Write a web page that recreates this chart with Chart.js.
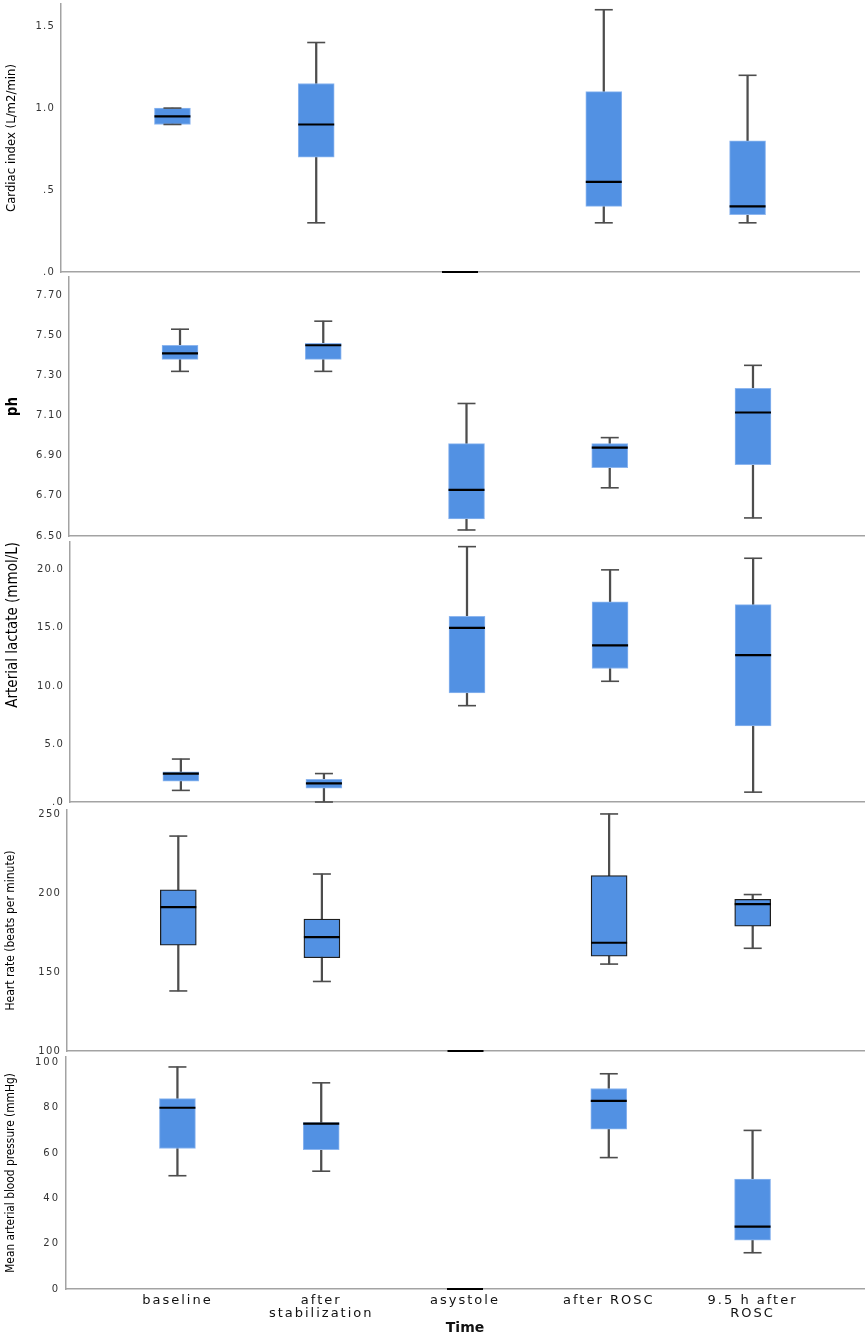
<!DOCTYPE html>
<html>
<head>
<meta charset="utf-8">
<script src="https://cdn.jsdelivr.net/npm/chart.js@4.4.0/dist/chart.umd.min.js"></script>
<style>
    html, body { margin: 0; padding: 0; background: #fff; }
    #wrap { position: relative; width: 868px; height: 1339px; overflow: hidden; }
    .panel { position: absolute; left: 0; width: 868px; }
</style>
</head>
<body>
<div id="wrap"></div>
<script>
const timePoints = ['baseline', ['after', 'stabilization'], 'asystole', 'after ROSC', ['9.5 h after', 'ROSC']];

// each row: [min, q1, median, q3, max] for one time point
const cardiacIndex = [
    [0.9, 0.9, 0.95, 1.0, 1.0],
    [0.3, 0.7, 0.9, 1.15, 1.4],
    [0, 0, 0, 0, 0],
    [0.3, 0.4, 0.55, 1.1, 1.6],
    [0.3, 0.35, 0.4, 0.8, 1.2]
];
const ph = [
    [7.32, 7.38, 7.41, 7.45, 7.53],
    [7.32, 7.38, 7.45, 7.46, 7.57],
    [6.53, 6.585, 6.73, 6.96, 7.16],
    [6.74, 6.84, 6.94, 6.96, 6.99],
    [6.59, 6.855, 7.115, 7.235, 7.35]
];
const lactate = [
    [1.0, 1.8, 2.45, 2.6, 3.7],
    [0, 1.2, 1.6, 1.95, 2.45],
    [8.3, 9.4, 15.0, 16.0, 22.0],
    [10.4, 11.5, 13.5, 17.25, 20.0],
    [0.85, 6.55, 12.65, 17.0, 21.0]
];
const heartRate = [
    [138, 167, 191, 202, 236],
    [144, 159, 172, 183.5, 212],
    [100, 100, 100, 100, 100],
    [155, 160, 168.5, 211, 250],
    [165, 179, 193, 196, 199]
];
const meanArterialPressure = [
    [50, 62, 80, 84, 98],
    [52, 61.5, 73, 73.5, 91],
    [0, 0, 0, 0, 0],
    [58, 70.5, 83, 88.5, 95],
    [16, 21.5, 27.5, 48.5, 70]
];

const cardiacTicks = [0, 0.5, 1.0, 1.5];
const cardiacTickLabels = ['.0', '.5', '1.0', '1.5'];
const phTicks = [6.5, 6.7, 6.9, 7.1, 7.3, 7.5, 7.7];
const phTickLabels = ['6.50', '6.70', '6.90', '7.10', '7.30', '7.50', '7.70'];
const lactateTicks = [0, 5, 10, 15, 20];
const lactateTickLabels = ['.0', '5.0', '10.0', '15.0', '20.0'];
const heartRateTicks = [100, 150, 200, 250];
const heartRateTickLabels = ['100', '150', '200', '250'];
const mapTicks = [0, 20, 40, 60, 80, 100];
const mapTickLabels = ['0', '20', '40', '60', '80', '100'];

const condensed = "'DejaVu Sans Condensed', 'DejaVu Sans', sans-serif";

// layout of the five stacked panels (pixel edges of each plot area)
const panels = [
    { title: 'Cardiac index (L/m2/min)', data: cardiacIndex, ticks: cardiacTicks, tickLabels: cardiacTickLabels,
      min: 0, max: 1.635, top: 4, bottom: 272, left: 61, right: 859,
      titleFont: { family: condensed, size: 13 }, titleAlign: 'center', boxBorder: '#8db6ef', boxBorderWidth: 1 },
    { title: 'ph', data: ph, ticks: phTicks, tickLabels: phTickLabels,
      min: 6.5, max: 7.79, top: 277, bottom: 536, left: 69, right: 864,
      titleFont: { family: condensed, size: 15, weight: 'bold' }, titleAlign: 'center', boxBorder: '#8db6ef', boxBorderWidth: 1 },
    { title: 'Arterial lactate (mmol/L)', data: lactate, ticks: lactateTicks, tickLabels: lactateTickLabels,
      min: 0, max: 22.4, top: 542, bottom: 802, left: 70, right: 864,
      titleFont: { family: condensed, size: 15 }, titleAlign: 'end', boxBorder: '#8db6ef', boxBorderWidth: 1 },
    { title: 'Heart rate (beats per minute)', data: heartRate, ticks: heartRateTicks, tickLabels: heartRateTickLabels,
      min: 100, max: 252.5, top: 810, bottom: 1051, left: 67, right: 864,
      titleFont: { family: condensed, size: 12 }, titleAlign: 'center', boxBorder: '#1e1e1e', boxBorderWidth: 1.3 },
    { title: 'Mean arterial blood pressure (mmHg)', data: meanArterialPressure, ticks: mapTicks, tickLabels: mapTickLabels,
      min: 0, max: 102.4, top: 1057, bottom: 1289, left: 66, right: 864,
      titleFont: { family: condensed, size: 11.8 }, titleAlign: 'center', boxBorder: '#8db6ef', boxBorderWidth: 1 }
];

// the tick labels in the original are drawn letter-spaced; titles are not
const letterSpacing = {
    id: 'letterSpacing',
    beforeDraw(chart) { chart.ctx.letterSpacing = '0px'; },
    afterDatasetsDraw(chart, args, opts) { chart.ctx.letterSpacing = opts.spacing || '0px'; }
};

const wrap = document.getElementById('wrap');

panels.forEach((p, i) => {
    const isLast = i === panels.length - 1;
    const xHeight = isLast ? 50 : 0;
    // room for the half-height of the end tick labels, so the plot area lands exactly on top/bottom
    const padTop = 14;
    const padBottom = isLast ? 0 : 14;

    const div = document.createElement('div');
    div.className = 'panel';
    div.style.top = (p.top - padTop) + 'px';
    div.style.height = (p.bottom - p.top + padTop + padBottom + xHeight) + 'px';
    const canvas = document.createElement('canvas');
    div.appendChild(canvas);
    wrap.appendChild(div);

    const positions = p.data.map((_, k) => k);

    new Chart(canvas, {
        type: 'bar',
        data: {
            datasets: [
                {   // median
                    type: 'scatter',
                    data: p.data.map((d, k) => ({ x: k, y: d[2] })),
                    pointStyle: 'line', pointRadius: 18,
                    pointBorderColor: '#000', pointBorderWidth: 2.2,
                    clip: false
                },
                {   // whisker caps
                    type: 'scatter',
                    data: p.data.flatMap((d, k) => [{ x: k, y: d[0] }, { x: k, y: d[4] }]),
                    pointStyle: 'line', pointRadius: 9,
                    pointBorderColor: '#4d4d4d', pointBorderWidth: 1.6,
                    clip: false
                },
                {   // interquartile box
                    data: p.data.map((d, k) => ({ x: k, y: [d[1], d[3]] })),
                    barThickness: 36,
                    backgroundColor: '#5291e3',
                    borderColor: p.boxBorder,
                    borderWidth: p.boxBorderWidth,
                    borderSkipped: false,
                    grouped: false
                },
                {   // whisker line
                    data: p.data.map((d, k) => ({ x: k, y: [d[0], d[4]] })),
                    barThickness: 1.6,
                    backgroundColor: '#4d4d4d',
                    grouped: false
                }
            ]
        },
        options: {
            animation: false,
            responsive: true,
            maintainAspectRatio: false,
            events: [],
            layout: {
                autoPadding: false,
                padding: { top: padTop, bottom: padBottom, left: 0, right: 868 - p.right }
            },
            plugins: {
                legend: { display: false },
                tooltip: { enabled: false },
                letterSpacing: { spacing: isLast ? '2px' : '1.2px' }
            },
            scales: {
                x: {
                    type: 'linear',
                    offset: false,
                    min: -0.775,
                    max: 4.775,
                    grid: { display: false, drawTicks: false, offset: false },
                    border: { color: '#a3a3a3', width: 1.5 },
                    afterBuildTicks: s => { s.ticks = positions.map(v => ({ value: v })); },
                    afterFit: s => { s.height = xHeight; },
                    ticks: {
                        display: isLast,
                        z: 1,
                        padding: 5,
                        autoSkip: false,
                        maxRotation: 0,
                        color: '#111',
                        font: { family: 'DejaVu Sans', size: 13, lineHeight: 1 },
                        callback: (v, k) => timePoints[k]
                    },
                    title: {
                        display: isLast,
                        text: 'Time',
                        color: '#111',
                        font: { family: 'DejaVu Sans', size: 14, weight: 'bold' },
                        padding: { top: 0, bottom: 2 }
                    }
                },
                y: {
                    min: p.min,
                    max: p.max,
                    grid: { display: false, drawTicks: false },
                    border: { color: '#a3a3a3', width: 1.5 },
                    afterBuildTicks: s => { s.ticks = p.ticks.map(v => ({ value: v })); },
                    afterFit: s => { s.width = p.left; },
                    ticks: {
                        z: 1,
                        padding: 6,
                        autoSkip: false,
                        color: '#333',
                        font: { family: 'DejaVu Sans', size: 10 },
                        callback: (v, k) => p.tickLabels[k]
                    },
                    title: {
                        display: true,
                        text: p.title,
                        color: '#000',
                        align: p.titleAlign,
                        font: p.titleFont,
                        padding: 4
                    }
                }
            }
        },
        plugins: [letterSpacing]
    });
});
</script>
</body>
</html>
